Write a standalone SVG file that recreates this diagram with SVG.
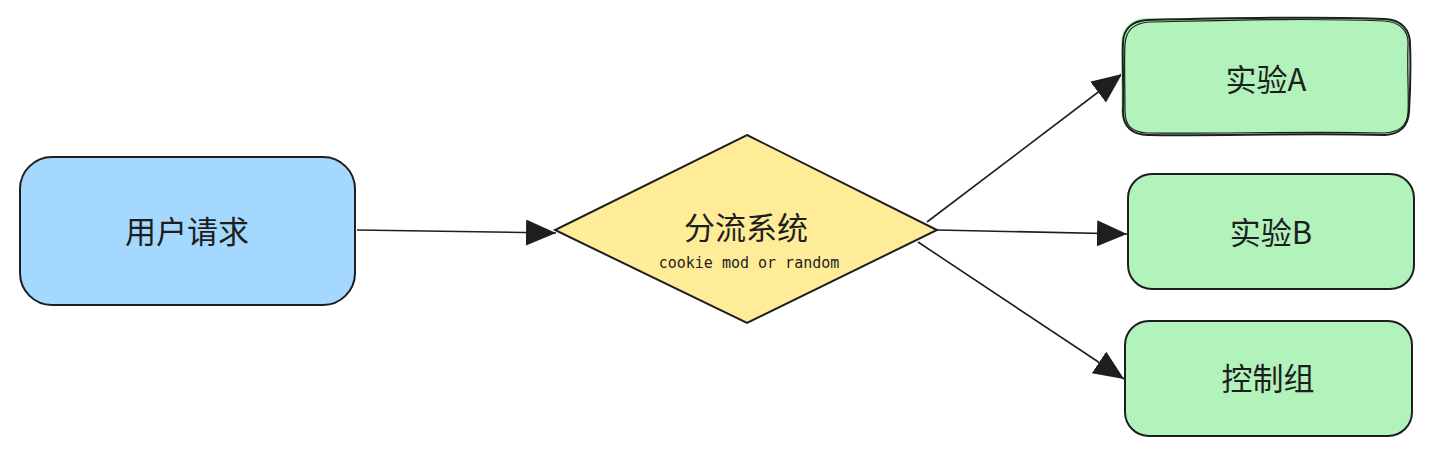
<svg xmlns="http://www.w3.org/2000/svg" width="1434" height="456" viewBox="0 0 1434 456">
<style>
.n{stroke:#1e1e1e;stroke-width:2}
.t{font-family:"Noto Sans CJK SC","Noto Sans",sans-serif;font-size:31px;fill:#1e1e1e;text-anchor:middle;dominant-baseline:central}
.m{font-family:"DejaVu Sans Mono","Liberation Mono",monospace;font-size:15px;fill:#1e1e1e;text-anchor:middle;dominant-baseline:central}
.c{stroke:#1e1e1e;stroke-width:1.6;fill:none}
</style>
<defs>
<marker id="ah" markerUnits="userSpaceOnUse" markerWidth="32" markerHeight="28" refX="30" refY="13" orient="auto">
<path d="M0,0 L30,13 L0,26 Z" fill="#1e1e1e"/>
</marker>
</defs>
<rect width="1434" height="456" fill="#ffffff"/>
<g id="connectors">
<path class="c" d="M357,230 L556,233" marker-end="url(#ah)"/>
<path class="c" d="M927,222 L1122,74" marker-end="url(#ah)"/>
<path class="c" d="M937,230 L1127,234" marker-end="url(#ah)"/>
<path class="c" d="M918,242 L1124,379" marker-end="url(#ah)"/>
</g>
<g id="user">
<rect class="n" x="20" y="157" width="335" height="148" rx="32" fill="#a5d8ff"/>
<text class="t" x="187" y="229">用户请求</text>
</g>
<g id="split">
<polygon class="n" points="747,135 937,230 747,323 555,230" fill="#ffec99"/>
<text class="t" x="746" y="225">分流系统</text>
<text class="m" x="749" y="263">cookie mod or random</text>
</g>
<g id="expA">
<rect x="1121" y="18" width="288" height="117" rx="24" fill="#b2f2bb"/>
<path class="n" fill="none" d="M1147,20 C1230,18 1320,16 1385,19 C1402,20 1410,30 1410,44 C1411,70 1410,95 1409,112 C1408,126 1400,134 1385,135 C1300,133 1220,136 1148,135 C1132,135 1123,126 1123,112 C1124,85 1122,60 1123,43 C1123,29 1132,21 1147,20 Z"/>
<path fill="none" stroke="#1e1e1e" stroke-width="1.2" d="M1149,22 C1240,20 1310,18 1384,21 C1400,22 1409,31 1408,45 C1407,72 1409,96 1408,113 C1407,127 1398,132 1384,133 C1305,131 1220,134 1147,133 C1131,132 1125,125 1125,111 C1125,86 1124,60 1125,44 C1126,30 1134,23 1149,22 Z"/>
<text class="t" x="1266" y="77">实验A</text>
</g>
<g id="expB">
<rect class="n" x="1128" y="174" width="286" height="115" rx="24" fill="#b2f2bb"/>
<text class="t" x="1271" y="230">实验B</text>
</g>
<g id="control">
<rect class="n" x="1125" y="321" width="287" height="115" rx="24" fill="#b2f2bb"/>
<text class="t" x="1268" y="376">控制组</text>
</g>
</svg>
